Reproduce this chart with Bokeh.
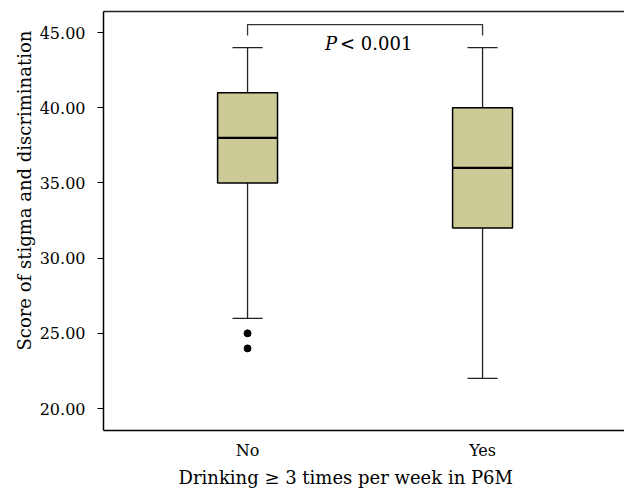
from bokeh.plotting import figure
from bokeh.models import (FixedTicker, NumeralTickFormatter, Range1d, LinearAxis,
                          ColumnDataSource, Label, Title)
from bokeh.embed import file_html
from bokeh.resources import INLINE

# ---- data ----
categories = ["No", "Yes"]
positions = [1, 2]
q1 = [35.0, 32.0]
median = [38.0, 36.0]
q3 = [41.0, 40.0]
whisker_low = [26.0, 22.0]
whisker_high = [44.0, 44.0]
outlier_group = [1, 1]
outlier_values = [25.0, 24.0]
y_ticks = [20, 25, 30, 35, 40, 45]
p_text = "< 0.001"
bracket_top = 45.53
bracket_bottom = 44.8
x_title = "Drinking \u2265 3 times per week in P6M"
y_title = "Score of stigma and discrimination"

FONT = "DejaVu Serif"
BOX_FILL = "#cccb97"

X0, X1 = 0.387, 2.604
Y0, Y1 = 18.54, 46.4

p = figure(width=624, height=491, output_backend="svg", toolbar_location=None,
           x_range=Range1d(X0, X1), y_range=Range1d(Y0, Y1),
           min_border_left=103, min_border_right=0, min_border_top=11, min_border_bottom=61)
p.outline_line_color = None
p.grid.visible = False
p.background_fill_color = "white"
p.border_fill_color = "white"

box_w = 0.255
cap_w = 0.128

src = ColumnDataSource(dict(x=positions, q1=q1, med=median, q3=q3, lo=whisker_low, hi=whisker_high,
                            cl=[x - cap_w / 2 for x in positions], cr=[x + cap_w / 2 for x in positions],
                            bl=[x - box_w / 2 for x in positions], br=[x + box_w / 2 for x in positions]))

# whiskers
p.segment(x0="x", y0="q3", x1="x", y1="hi", source=src, line_color="#222222", line_width=1.3)
p.segment(x0="x", y0="q1", x1="x", y1="lo", source=src, line_color="#222222", line_width=1.3)
p.segment(x0="cl", y0="hi", x1="cr", y1="hi", source=src, line_color="#222222", line_width=1.3)
p.segment(x0="cl", y0="lo", x1="cr", y1="lo", source=src, line_color="#222222", line_width=1.3)
# boxes
p.quad(left="bl", right="br", bottom="q1", top="q3", source=src, fill_color=BOX_FILL,
       line_color="black", line_width=1.5)
p.segment(x0="bl", y0="med", x1="br", y1="med", source=src, line_color="black", line_width=2.2)
# outliers
p.scatter(outlier_group, outlier_values, size=7, color="black")

# bracket
p.line([positions[0], positions[0], positions[1], positions[1]],
       [bracket_bottom, bracket_top, bracket_top, bracket_bottom], line_color="#333333", line_width=1.3)
mid = (positions[0] + positions[1]) / 2
p.add_layout(Label(x=mid, y=44.27, x_offset=-28, text="P", text_font=FONT, text_font_style="italic",
                   text_font_size="18px", text_align="right", text_baseline="alphabetic", text_color="black"))
p.add_layout(Label(x=mid, y=44.27, x_offset=-25, text=p_text, text_font=FONT,
                   text_font_size="18px", text_align="left", text_baseline="alphabetic", text_color="black"))

# axes
yax = p.yaxis[0]
yax.ticker = FixedTicker(ticks=y_ticks)
yax.formatter = NumeralTickFormatter(format="0.00")
yax.major_tick_out = 6
yax.major_tick_in = 0
yax.minor_tick_line_color = None
yax.major_label_standoff = 12
yax.axis_line_width = 1.5
yax.major_tick_line_color = "black"

xax = p.xaxis[0]
xax.ticker = FixedTicker(ticks=positions)
xax.major_label_overrides = {positions[i]: categories[i] for i in range(len(categories))}
xax.major_tick_line_color = None
xax.minor_tick_line_color = None
xax.major_tick_out = 0
xax.major_label_standoff = 10
xax.axis_line_width = 1.5

for ax in (xax, yax):
    ax.axis_line_color = "black"
    ax.major_label_text_font = FONT
    ax.major_label_text_font_size = "16px"
    ax.major_label_text_color = "black"

top = LinearAxis(ticker=FixedTicker(ticks=[]), major_tick_line_color=None, minor_tick_line_color=None,
                 major_label_text_font_size="0px", major_label_standoff=0, major_tick_out=0,
                 axis_line_color="#222222", axis_line_width=1.5)
p.add_layout(top, "above")

# axis titles as side titles (slightly off-centre, as in the reference)
p.add_layout(Title(text=x_title, align="left", offset=75, standoff=4, text_font=FONT,
                   text_font_size="18px", text_font_style="normal", text_color="black"), "below")
p.add_layout(Title(text=y_title, align="left", offset=80, standoff=4, text_font=FONT,
                   text_font_size="18px", text_font_style="normal", text_color="black"), "left")

open("out.html", "w").write(file_html(p, INLINE))
